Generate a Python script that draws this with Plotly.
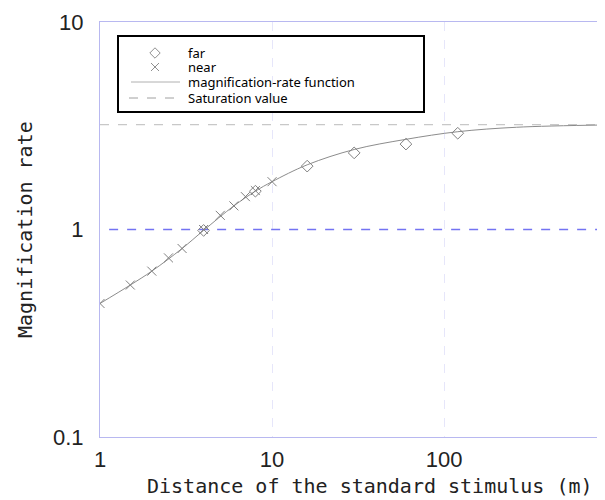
import plotly.graph_objects as go

# ---- data ----
far_x = [4, 8, 16, 30, 60, 120]
far_y = [0.99, 1.53, 2.02, 2.34, 2.58, 2.91]
near_x = [1, 1.5, 2, 2.5, 3, 4, 5, 6, 7, 8, 10]
near_y = [0.44, 0.54, 0.63, 0.73, 0.81, 1.0, 1.17, 1.30, 1.44, 1.54, 1.70]
func_x = [1, 1.5, 2, 3, 4, 6, 8, 10, 16, 30, 60, 120, 264, 860]
func_y = [0.44, 0.54, 0.63, 0.81, 0.99, 1.30, 1.53, 1.70, 2.05, 2.43, 2.72, 2.96, 3.11, 3.19]
sat_x = [1, 860]
sat_y = [3.2, 3.2]
ref_x = [1.13, 860]
ref_y = [1, 1]
x_ticks = [1, 10, 100]
x_ticktext = ["1", "10", "100"]
y_ticks = [0.1, 1, 10]
y_ticktext = ["0.1", "1", "10"]
legend_names = ["far", "near", "magnification-rate function", "Saturation value"]

OFF = 8  # default page body margin
W, H = 605 - OFF, 500 - OFF
L, R, T = 100 - OFF, 0, 22 - OFF
pw, ph = W - L - R, 415
B = H - T - ph

def px(x):  # page pixel -> paper
    return (x - OFF - L) / pw

def py(y):
    return (H - B - (y - OFF)) / ph

grey = "#808080"
lav = "#b8b8f0"

fig = go.Figure()

fig.add_trace(go.Scatter(x=ref_x, y=ref_y, mode="lines",
                         line=dict(color="rgb(115,115,242)", width=1.3, dash="dash"),
                         showlegend=False, hoverinfo="skip"))
fig.add_trace(go.Scatter(x=sat_x, y=sat_y, mode="lines",
                         line=dict(color="#c8c8c8", width=1.2, dash="dash"),
                         showlegend=False))
fig.add_trace(go.Scatter(x=func_x, y=func_y, mode="lines",
                         line=dict(color="#8c8c8c", width=1, shape="spline"),
                         showlegend=False))
fig.add_trace(go.Scatter(x=far_x, y=far_y, mode="markers",
                         marker=dict(symbol="diamond-open", size=9, color=grey,
                                     line=dict(width=1, color=grey)),
                         showlegend=False))
fig.add_trace(go.Scatter(x=near_x, y=near_y, mode="markers",
                         marker=dict(symbol="x-thin-open", size=9, color=grey,
                                     line=dict(width=1, color=grey)),
                         showlegend=False))

# ---- manual legend ----
fig.add_shape(type="rect", xref="paper", yref="paper",
              x0=px(118), x1=px(424), y0=py(112), y1=py(36),
              line=dict(color="black", width=2), fillcolor="rgba(0,0,0,0)", layer="above")
ys = [53, 67, 82, 98]
fig.add_trace(go.Scatter(x=[px(155)], y=[py(ys[0])], xaxis="x2", yaxis="y2",
                         mode="markers",
                         marker=dict(symbol="diamond-open", size=8, color="#909090",
                                     line=dict(width=1, color="#909090")),
                         showlegend=False, hoverinfo="skip"))
fig.add_trace(go.Scatter(x=[px(155)], y=[py(ys[1])], xaxis="x2", yaxis="y2",
                         mode="markers",
                         marker=dict(symbol="x-thin-open", size=8, color="#909090",
                                     line=dict(width=1, color="#909090")),
                         showlegend=False, hoverinfo="skip"))
fig.add_shape(type="line", xref="paper", yref="paper", x0=px(131), x1=px(180),
              y0=py(ys[2]), y1=py(ys[2]), line=dict(color="#b0b0b0", width=1), layer="above")
fig.add_shape(type="line", xref="paper", yref="paper", x0=px(129), x1=px(178),
              y0=py(ys[3]), y1=py(ys[3]), line=dict(color="#a0a0a0", width=1, dash="dash"),
              layer="above")
for name, yy in zip(legend_names, ys):
    fig.add_annotation(x=px(186), y=py(yy), xref="paper", yref="paper",
                       text=name, showarrow=False, xanchor="left", yanchor="middle",
                       font=dict(family="Noto Sans", size=13, color="black"))

# axis titles as annotations for precise placement
fig.add_annotation(x=px(370), y=py(486), xref="paper", yref="paper",
                   text="Distance of the standard stimulus (m)", showarrow=False,
                   xanchor="center", yanchor="middle",
                   font=dict(family="DejaVu Sans Mono", size=20, color="#222"))
fig.add_annotation(x=px(25), y=py(230), xref="paper", yref="paper",
                   text="Magnification rate", showarrow=False, textangle=-90,
                   xanchor="center", yanchor="middle",
                   font=dict(family="DejaVu Sans Mono", size=20, color="#222"))

fig.update_layout(
    width=W, height=H,
    margin=dict(l=L, r=R, t=T, b=B, pad=0),
    paper_bgcolor="white", plot_bgcolor="white",
    showlegend=False,
    xaxis=dict(type="log", range=[0, 2.935], tickvals=x_ticks, ticktext=x_ticktext,
               showline=True, linecolor=lav, linewidth=1, mirror=True,
               showgrid=True, gridcolor="#e6e6fa", griddash="dash", gridwidth=1,
               zeroline=False, ticks="", ticklabelstandoff=3, automargin=False,
               tickfont=dict(family="Liberation Sans", size=22, color="#222")),
    yaxis=dict(type="log", range=[-1, 1], tickvals=y_ticks, ticktext=y_ticktext,
               showline=True, linecolor=lav, linewidth=1, mirror=False,
               showgrid=False, zeroline=False, ticks="", ticklabelstandoff=11,
               automargin=False,
               tickfont=dict(family="Liberation Sans", size=22, color="#222")),
    xaxis2=dict(range=[0, 1], overlaying="x", visible=False, fixedrange=True),
    yaxis2=dict(range=[0, 1], overlaying="y", visible=False, fixedrange=True),
)

fig.write_html("out.html")
